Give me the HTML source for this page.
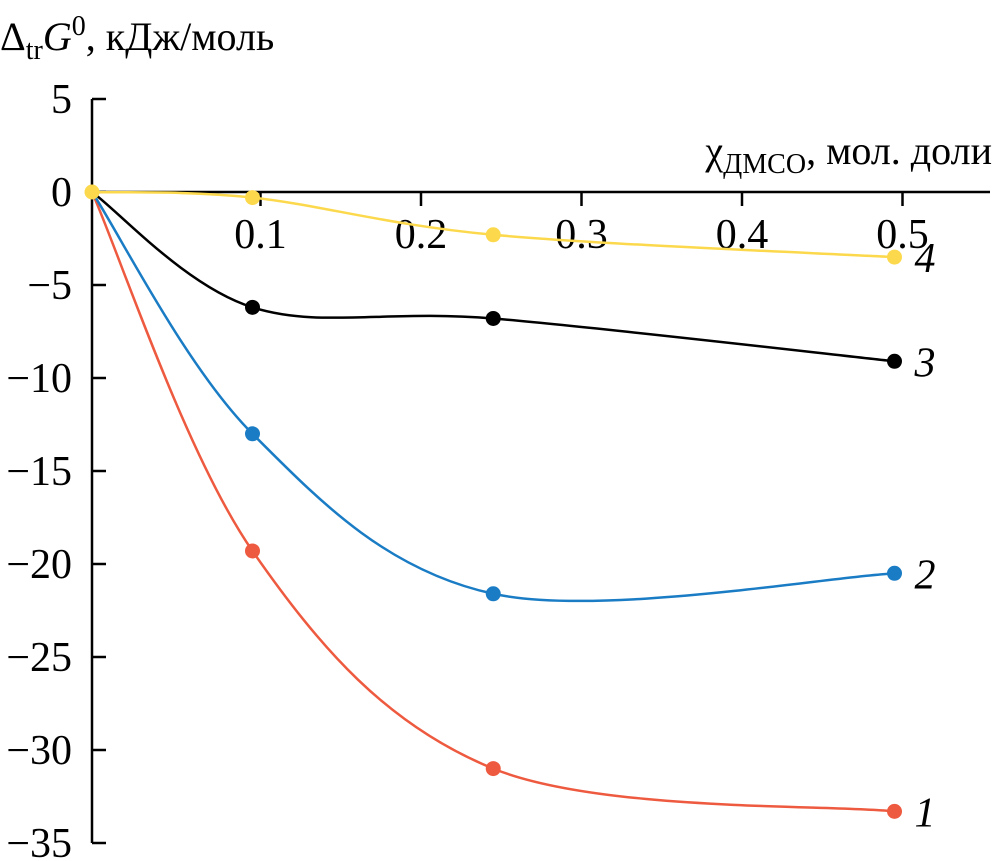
<!DOCTYPE html>
<html><head><meta charset="utf-8"><style>
html,body{margin:0;padding:0;background:#fff;}
svg, svg text{font-family:"Liberation Serif","Times New Roman",serif;}
svg{display:block;}
</style></head><body>
<svg id="chart" width="995" height="861" viewBox="0 0 995 861">
<text x="0" y="50" font-size="40" font-family="Liberation Serif, serif">Δ<tspan font-size="28" dy="9">tr</tspan><tspan font-style="italic" dy="-9">G</tspan><tspan font-size="28" dy="-15">0</tspan><tspan dy="15">, кДж/моль</tspan></text>
<text x="992" y="164" font-size="40" font-family="Liberation Serif, serif" text-anchor="end">χ<tspan font-size="28" dy="9">ДМСО</tspan><tspan dy="-9">, мол. доли</tspan></text>
<g id="axes"></g>
<g id="series"></g>
</svg>
<script>
const xTicks=[0.1,0.2,0.3,0.4,0.5];
const yTicks=[5,0,-5,-10,-15,-20,-25,-30,-35];
const xs=[0,0.1,0.25,0.5];
const s1=[0,-19.3,-31,-33.3];
const s2=[0,-13,-21.6,-20.5];
const s3=[0,-6.2,-6.8,-9.1];
const s4=[0,-0.3,-2.3,-3.5];
const names=['1','2','3','4'];
const colors=['#ee5a3f','#1a7cc4','#000000','#fcd94c'];
const series=[s1,s2,s3,s4];
const X=v=>92+1605*v;
const Y=v=>192-18.6*v;
const NS='http://www.w3.org/2000/svg';
const ax=document.getElementById('axes'),sg=document.getElementById('series');
function mk(tag,at,par){const e=document.createElementNS(NS,tag);for(const k in at)e.setAttribute(k,at[k]);par.appendChild(e);return e;}
let l=mk('line',{x1:92,y1:Y(5),x2:92,y2:Y(-35),stroke:'#000','stroke-width':2.5},ax);


l=mk('line',{x1:92,y1:Y(0),x2:990,y2:Y(0),stroke:'#000','stroke-width':2.5},ax);


yTicks.forEach(t=>{
 const tk=mk('line',{x1:92,y1:Y(t),x2:106,y2:Y(t),stroke:'#000','stroke-width':2.5},ax);
 
 
 const tx=mk('text',{x:72,y:Y(t)+14,'font-size':42,'text-anchor':'end','font-family':'Liberation Serif, serif'},ax);
 tx.textContent=t<0?'−'+(-t):String(t);
 
 
});
xTicks.forEach(t=>{
 const tk=mk('line',{x1:X(t)+8,y1:Y(0),x2:X(t)+8,y2:Y(0)+14,stroke:'#000','stroke-width':2.5},ax);
 
 
 const tx=mk('text',{x:X(t)+8,y:Y(0)+56,'font-size':42,'text-anchor':'middle','font-family':'Liberation Serif, serif'},ax);
 tx.textContent=t.toFixed(1);
 
 
});
function path(pts){
 let d='M'+pts[0][0]+','+pts[0][1];
 for(let i=0;i<pts.length-1;i++){
  const p0=pts[Math.max(i-1,0)],p1=pts[i],p2=pts[i+1],p3=pts[Math.min(i+2,pts.length-1)];
  const c1=[p1[0]+(p2[0]-p0[0])/6,p1[1]+(p2[1]-p0[1])/6];
  const c2=[p2[0]-(p3[0]-p1[0])/6,p2[1]-(p3[1]-p1[1])/6];
  d+=' C'+c1+' '+c2+' '+p2;
 }
 return d;
}
[0,1,2,3].forEach(si=>{
 const pts=xs.map((x,i)=>[X(x),Y(series[si][i])]);
 const p=mk('path',{d:path(pts),fill:'none',stroke:colors[si],'stroke-width':2.5},sg);
 
 
});
[0,1,2,3].forEach(si=>{
 xs.forEach((x,i)=>{
  if(i===0&&si!==3)return;
  const c=mk('circle',{cx:X(x),cy:Y(series[si][i]),r:7.5,fill:colors[si]},sg);
  
  
 });
 const last=series[si][series[si].length-1];
 const t=mk('text',{x:X(xs[xs.length-1])+20,y:Y(last)+15,'font-size':42,'font-style':'italic','font-family':'Liberation Serif, serif'},sg);
 t.textContent=names[si];
 
 
});
</script>
</body></html>
